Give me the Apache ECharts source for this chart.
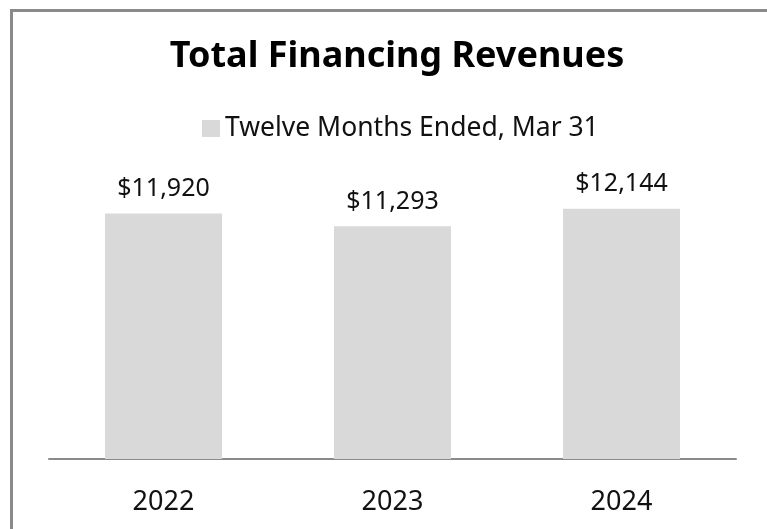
<!DOCTYPE html>
<html>
<head>
<meta charset="utf-8">
<script src="https://cdn.jsdelivr.net/npm/echarts@6/dist/echarts.min.js"></script>
<style>
  html, body { margin: 0; padding: 0; background: #fff; }
  #frame {
    position: absolute; left: 10px; top: 9px; width: 900px; height: 700px;
    border-left: 3px solid #8a8a8a; border-top: 3px solid #8a8a8a;
  }
  #chart { position: absolute; left: 0; top: 0; width: 767px; height: 529px; }
</style>
</head>
<body>
<div id="frame"></div>
<div id="chart"></div>
<script>
// data
const years = ['2022', '2023', '2024']
const revenues = [11920, 11293, 12144]
const seriesName = 'Twelve Months Ended, Mar 31'

const myChart = echarts.init(document.getElementById('chart'))

const font = '"Noto Sans", "Open Sans", sans-serif'

const option = {
  backgroundColor: 'transparent',
  animation: false,
  title: {
    text: 'Total Financing Revenues',
    left: 392,
    top: 34,
    textAlign: 'center',
    textStyle: { fontFamily: font, fontSize: 36, fontWeight: 'bold', color: '#000' }
  },
  legend: {
    data: [seriesName],
    left: 197,
    top: 110,
    itemWidth: 18,
    itemHeight: 17,
    itemGap: 8,
    icon: 'rect',
    textStyle: { fontFamily: font, fontSize: 26.5, color: '#111' }
  },
  grid: { left: 49, right: 31, top: 47, bottom: 70 },
  xAxis: {
    type: 'category',
    data: years,
    axisLine: { lineStyle: { color: '#8a8a8a', width: 2 } },
    axisTick: { show: false },
    axisLabel: { fontFamily: font, fontSize: 27, color: '#111', margin: 30 }
  },
  yAxis: {
    type: 'value',
    min: 0,
    max: 20000,
    show: false,
    splitLine: { show: false }
  },
  series: [
    {
      name: seriesName,
      type: 'bar',
      data: revenues,
      barWidth: 117,
      itemStyle: { color: '#d9d9d9' },
      label: {
        show: true,
        position: 'top',
        distance: 12,
        fontFamily: font,
        fontSize: 25,
        color: '#111',
        formatter: p => '$' + p.value.toLocaleString('en-US')
      }
    }
  ]
}
myChart.setOption(option)
</script>
</body>
</html>
